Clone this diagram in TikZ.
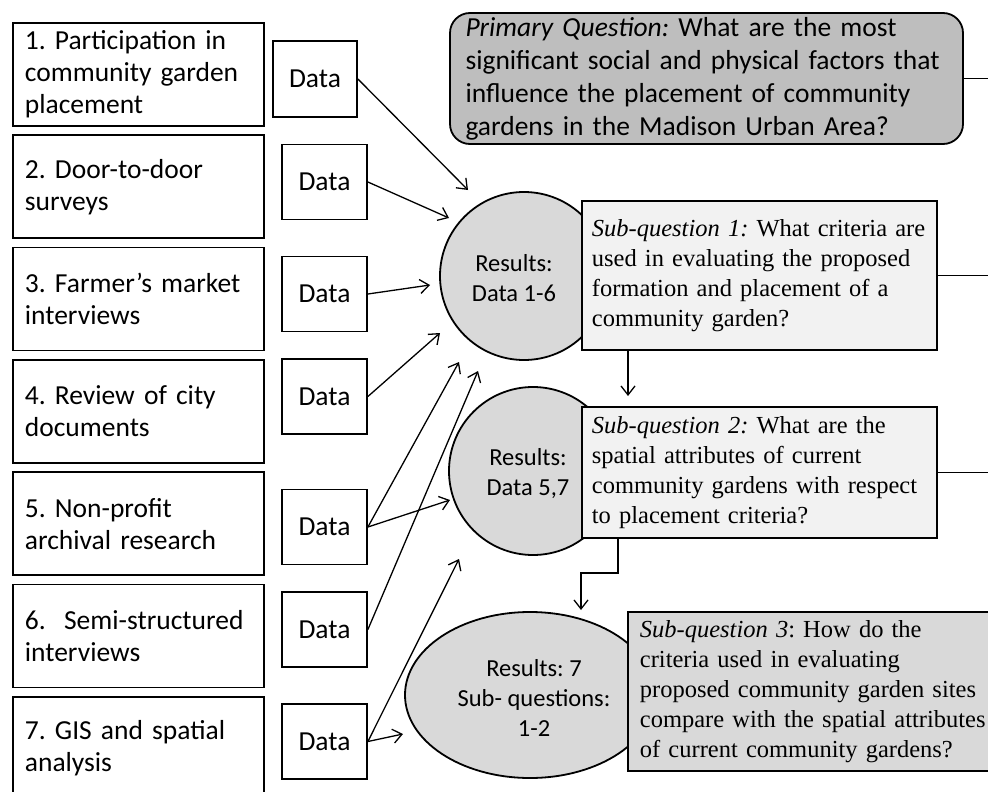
\documentclass[tikz,border=0pt]{standalone}
\usepackage{fontspec}
\setmainfont{Liberation Serif}
\newfontfamily\carl{Carlito}
\usetikzlibrary{arrows.meta,shapes.geometric}
\definecolor{pqgray}{HTML}{BEBEBE}
\definecolor{resgray}{HTML}{D9D9D9}
\definecolor{qlight}{HTML}{F2F2F2}
\AtBeginDocument{\frenchspacing}
\begin{document}
\begin{tikzpicture}[x=1pt,y=-1pt,
  srcbox/.style={draw, line width=1.8pt, anchor=north west,
    minimum width=251pt, minimum height=103pt, text width=227pt,
    inner xsep=12pt, inner ysep=0pt, align=left,
    font=\carl\fontsize{27.5}{32}\selectfont},
  databox/.style={draw, line width=1.8pt, minimum width=85pt,
    minimum height=75pt, inner sep=0pt,
    font=\carl\fontsize{27.5}{32}\selectfont},
  resshape/.style={draw, line width=1.8pt, fill=resgray, inner sep=0pt},
  restext/.style={align=center, inner sep=0pt,
    font=\carl\fontsize{24.5}{30}\selectfont},
  qbox/.style={draw, line width=1.8pt, anchor=north west, inner ysep=0pt,
    align=left, font=\fontsize{24.5}{30}\selectfont},
  arr/.style={line width=1.3pt, -{Straight Barb[length=9pt,width=14pt]}},
  link/.style={line width=1.8pt}
]
\useasboundingbox (0,0) rectangle (988,792);
\clip (0,0) rectangle (988,792);
\fill[white] (0,0) rectangle (988,792);

% data sources
\node[srcbox] (s1) at (12,22)    {1. Participation in\\community garden\\placement};
\node[srcbox] (s2) at (12,134.3) {2. Door-to-door\\surveys};
\node[srcbox] (s3) at (12,246.6) {3. Farmer’s market\\interviews};
\node[srcbox] (s4) at (12,358.9) {4. Review of city\\documents};
\node[srcbox] (s5) at (12,471.2) {5. Non-profit\\archival research};
\node[srcbox] (s6) at (12,583.5) {6.\ \ Semi-structured\\interviews};
\node[srcbox] (s7) at (12,695.8) {7. GIS and spatial\\analysis};

% data boxes
\node[databox, minimum width=84pt, minimum height=76pt] (d1) at (315,79) {Data};
\node[databox] (d2) at (324.5,182)   {Data};
\node[databox] (d3) at (324.5,294)   {Data};
\node[databox] (d4) at (324.5,396.5) {Data};
\node[databox] (d5) at (324.5,527)   {Data};
\node[databox] (d6) at (324.5,629.5) {Data};
\node[databox] (d7) at (324.5,741.5) {Data};

% result shapes
\node[resshape, circle, minimum size=168pt] (c1) at (524,276) {};
\node[resshape, circle, minimum size=168pt] (c2) at (533,471) {};
\node[resshape, ellipse, minimum width=250pt, minimum height=166pt] (e3) at (530,695) {};
\node[restext] (c1t) at (514,278) {Results:\\Data 1-6};
\node[restext] (c2t) at (528,473.5) {Results:\\Data 5,7};
\node[restext] (e3t) at (534,698) {Results: 7\\Sub- questions:\\1-2};

% questions
\node[draw, line width=1.8pt, fill=pqgray, rounded corners=20pt,
  minimum width=513pt, minimum height=131pt, text width=482pt,
  inner xsep=15.5pt, inner ysep=0pt, align=left,
  font=\carl\fontsize{27.5}{33}\selectfont] (pq) at (706.5,78.5)
  {\textit{Primary Question:} What are the most\\significant social and physical factors that\\influence the placement of community\\gardens in the Madison Urban Area?};
\node[qbox, fill=qlight, minimum width=355pt, minimum height=149pt,
  text width=335pt, inner xsep=10pt] (q1) at (581,200)
  {\textit{Sub-question 1:} What criteria are\\used in evaluating the proposed\\formation and placement of a\\community garden?};
\node[qbox, fill=qlight, minimum width=355pt, minimum height=131pt,
  text width=335pt, inner xsep=10pt] (q2) at (581,406)
  {\textit{Sub-question 2:} What are the\\spatial attributes of current\\community gardens with respect\\to placement criteria?};
\node[qbox, fill=resgray, minimum width=420pt, minimum height=159pt,
  text width=396pt, inner xsep=12pt] (q3) at (627,611)
  {\textit{Sub-question 3}: How do the\\criteria used in evaluating\\proposed community garden sites\\compare with the spatial attributes\\of current community gardens?};

% lines running off to the right
\coordinate (rim) at (988,0);
\draw[link] (pq.east) -- (pq.east -| rim);
\draw[link] (q1.east) -- (q1.east -| rim);
\draw[link] (q2.east) -- (q2.east -| rim);

% arrow tips
\coordinate (t1) at (468,190);
\coordinate (t2) at (449,218);
\coordinate (t3) at (430,285);
\coordinate (t4) at (440,333);
\coordinate (t5a) at (459,362);
\coordinate (t5b) at (450,500);
\coordinate (t6) at (478,371);
\coordinate (t7a) at (459,559);
\coordinate (t7b) at (403,734);

\draw[arr] (d1.east) -- (t1);
\draw[arr] (d2.east) -- (t2);
\draw[arr] (d3.east) -- (t3);
\draw[arr] (d4.east) -- (t4);
\draw[arr] (d5.east) -- (t5a);
\draw[arr] (d5.east) -- (t5b);
\draw[arr] (d6.east) -- (t6);
\draw[arr] (d7.east) -- (t7a);
\draw[arr] (d7.east) -- (t7b);

% links between the sub-questions
\coordinate (a1) at (628,396);
\draw[arr] (a1 |- q1.south) -- (a1);
\coordinate (b2) at (618,573);
\coordinate (a2) at (581,610);
\draw[arr] (b2 |- q2.south) -- (b2) -| (a2);
\end{tikzpicture}
\end{document}
